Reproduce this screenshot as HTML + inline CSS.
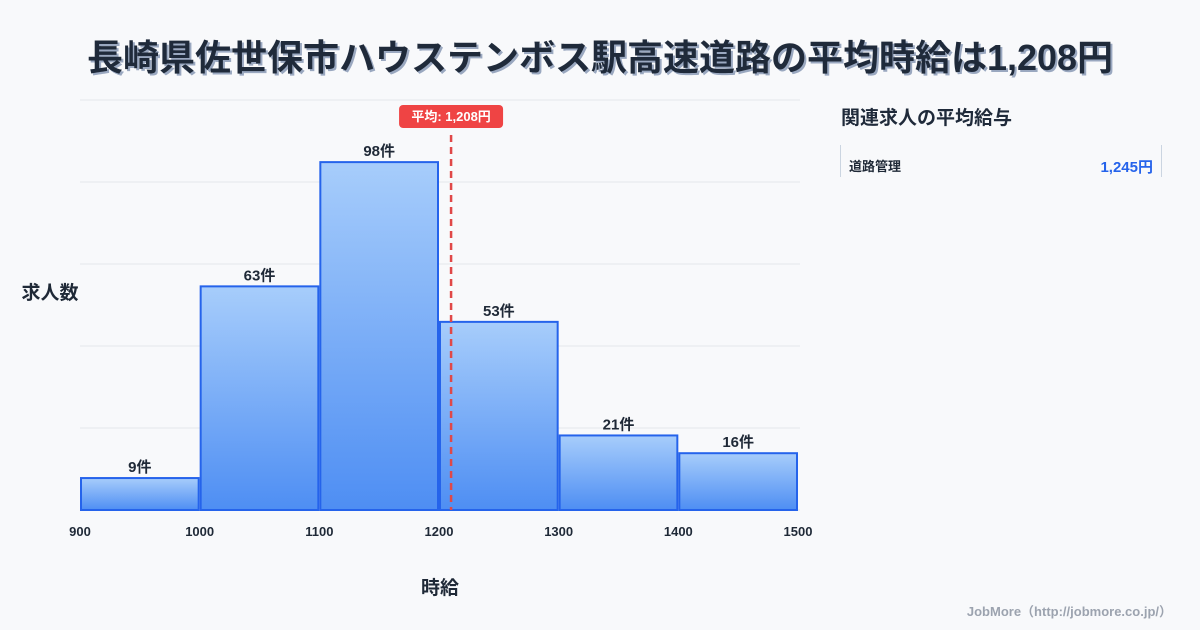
<!DOCTYPE html>
<html><head><meta charset="utf-8"><style>
body{margin:0;width:1200px;height:630px;background:#f8f9fb;font-family:"Liberation Sans","Noto Sans CJK JP",sans-serif;overflow:hidden;position:relative;color:#1f2937}
#title{position:absolute;top:29px;left:0;width:1200px;text-align:center;font-size:36px;font-weight:bold;color:#1f2a3a;text-shadow:2px 2px 0 #9aa8c0}
.side{position:absolute}
</style></head><body>
<div id="title">長崎県佐世保市ハウステンボス駅高速道路の平均時給は1,208円</div>
<svg width="1200" height="630" style="position:absolute;left:0;top:0">
<defs><linearGradient id="g" x1="0" y1="0" x2="0" y2="1"><stop offset="0" stop-color="#a7cdfb"/><stop offset="1" stop-color="#4e8ef3"/></linearGradient></defs>
<g id="grid"></g><g id="bars"></g><g id="ticks"></g><g id="avg"></g>
<text x="50" y="299" font-size="19" font-weight="bold" text-anchor="middle" fill="#1f2937">求人数</text>
<text x="440" y="594" font-size="19" font-weight="bold" text-anchor="middle" fill="#1f2937">時給</text>
<text x="1172" y="616" font-size="13" font-weight="bold" text-anchor="end" fill="#9ca3af">JobMore（http://jobmore.co.jp/）</text>
</svg>
<div class="side" style="left:841px;top:103px;font-size:19px;font-weight:bold;color:#1f2a3a">関連求人の平均給与</div>
<div class="side" style="left:840px;top:145px;width:320px;height:32px;border-left:1px solid #cbd5e1;border-right:1px solid #cbd5e1">
<span style="position:absolute;left:8px;top:11px;font-size:13px;font-weight:bold;color:#1f2937">道路管理</span>
<span style="position:absolute;right:8px;top:11px;font-size:15px;font-weight:bold;color:#2563eb">1,245円</span></div>
<script>
const binStarts=[900,1000,1100,1200,1300,1400];
const counts=[9,63,98,53,21,16];
const xTicks=[900,1000,1100,1200,1300,1400,1500];
const avgWage=1208;
const NS="http://www.w3.org/2000/svg";
const x0=80,x1=798,yB=510,yT=100,dMin=900,dMax=1500,yMax=115.5;
const sx=v=>x0+(v-dMin)*(x1-x0)/(dMax-dMin);
const sy=v=>yB-v*(yB-yT)/yMax;
function mk(t,a,p){const e=document.createElementNS(NS,t);for(const k in a)e.setAttribute(k,a[k]);p.appendChild(e);return e;}
const grid=document.getElementById('grid');
for(let i=0;i<=5;i++){const y=yT+i*(yB-yT)/5;const l=mk('line',{x1:x0,x2:800,y1:y,y2:y,stroke:'#e5e7eb','stroke-width':1},grid);

}
const bars=document.getElementById('bars');
binStarts.forEach((b,i)=>{const xa=sx(b)+1,xb=sx(b+100)-1,y=sy(counts[i]);
const r=mk('rect',{x:xa,y:y,width:xb-xa,height:yB-y,fill:'url(#g)',stroke:'#2563eb','stroke-width':2},bars);


const t=mk('text',{x:(xa+xb)/2,y:y-6,'font-size':15,'font-weight':'bold','text-anchor':'middle',fill:'#1f2937'},bars);t.textContent=counts[i]+'件';

});
const tk=document.getElementById('ticks');
xTicks.forEach(v=>{const t=mk('text',{x:sx(v),y:536,'font-size':13,'font-weight':'bold','text-anchor':'middle',fill:'#1f2937'},tk);t.textContent=v;

});
const av=document.getElementById('avg');const ax=sx(avgWage)+2.5;
const al=mk('line',{x1:ax,x2:ax,y1:135,y2:yB,stroke:'#e04848','stroke-width':2.5,'stroke-dasharray':'7,5'},av);


const ar=mk('rect',{x:ax-52,y:105,width:104,height:23,rx:4,fill:'#ef4444'},av);


const at=mk('text',{x:ax,y:121,'font-size':13,'font-weight':'bold','text-anchor':'middle',fill:'#fff'},av);at.textContent='平均: 1,208円';


</script>
</body></html>
